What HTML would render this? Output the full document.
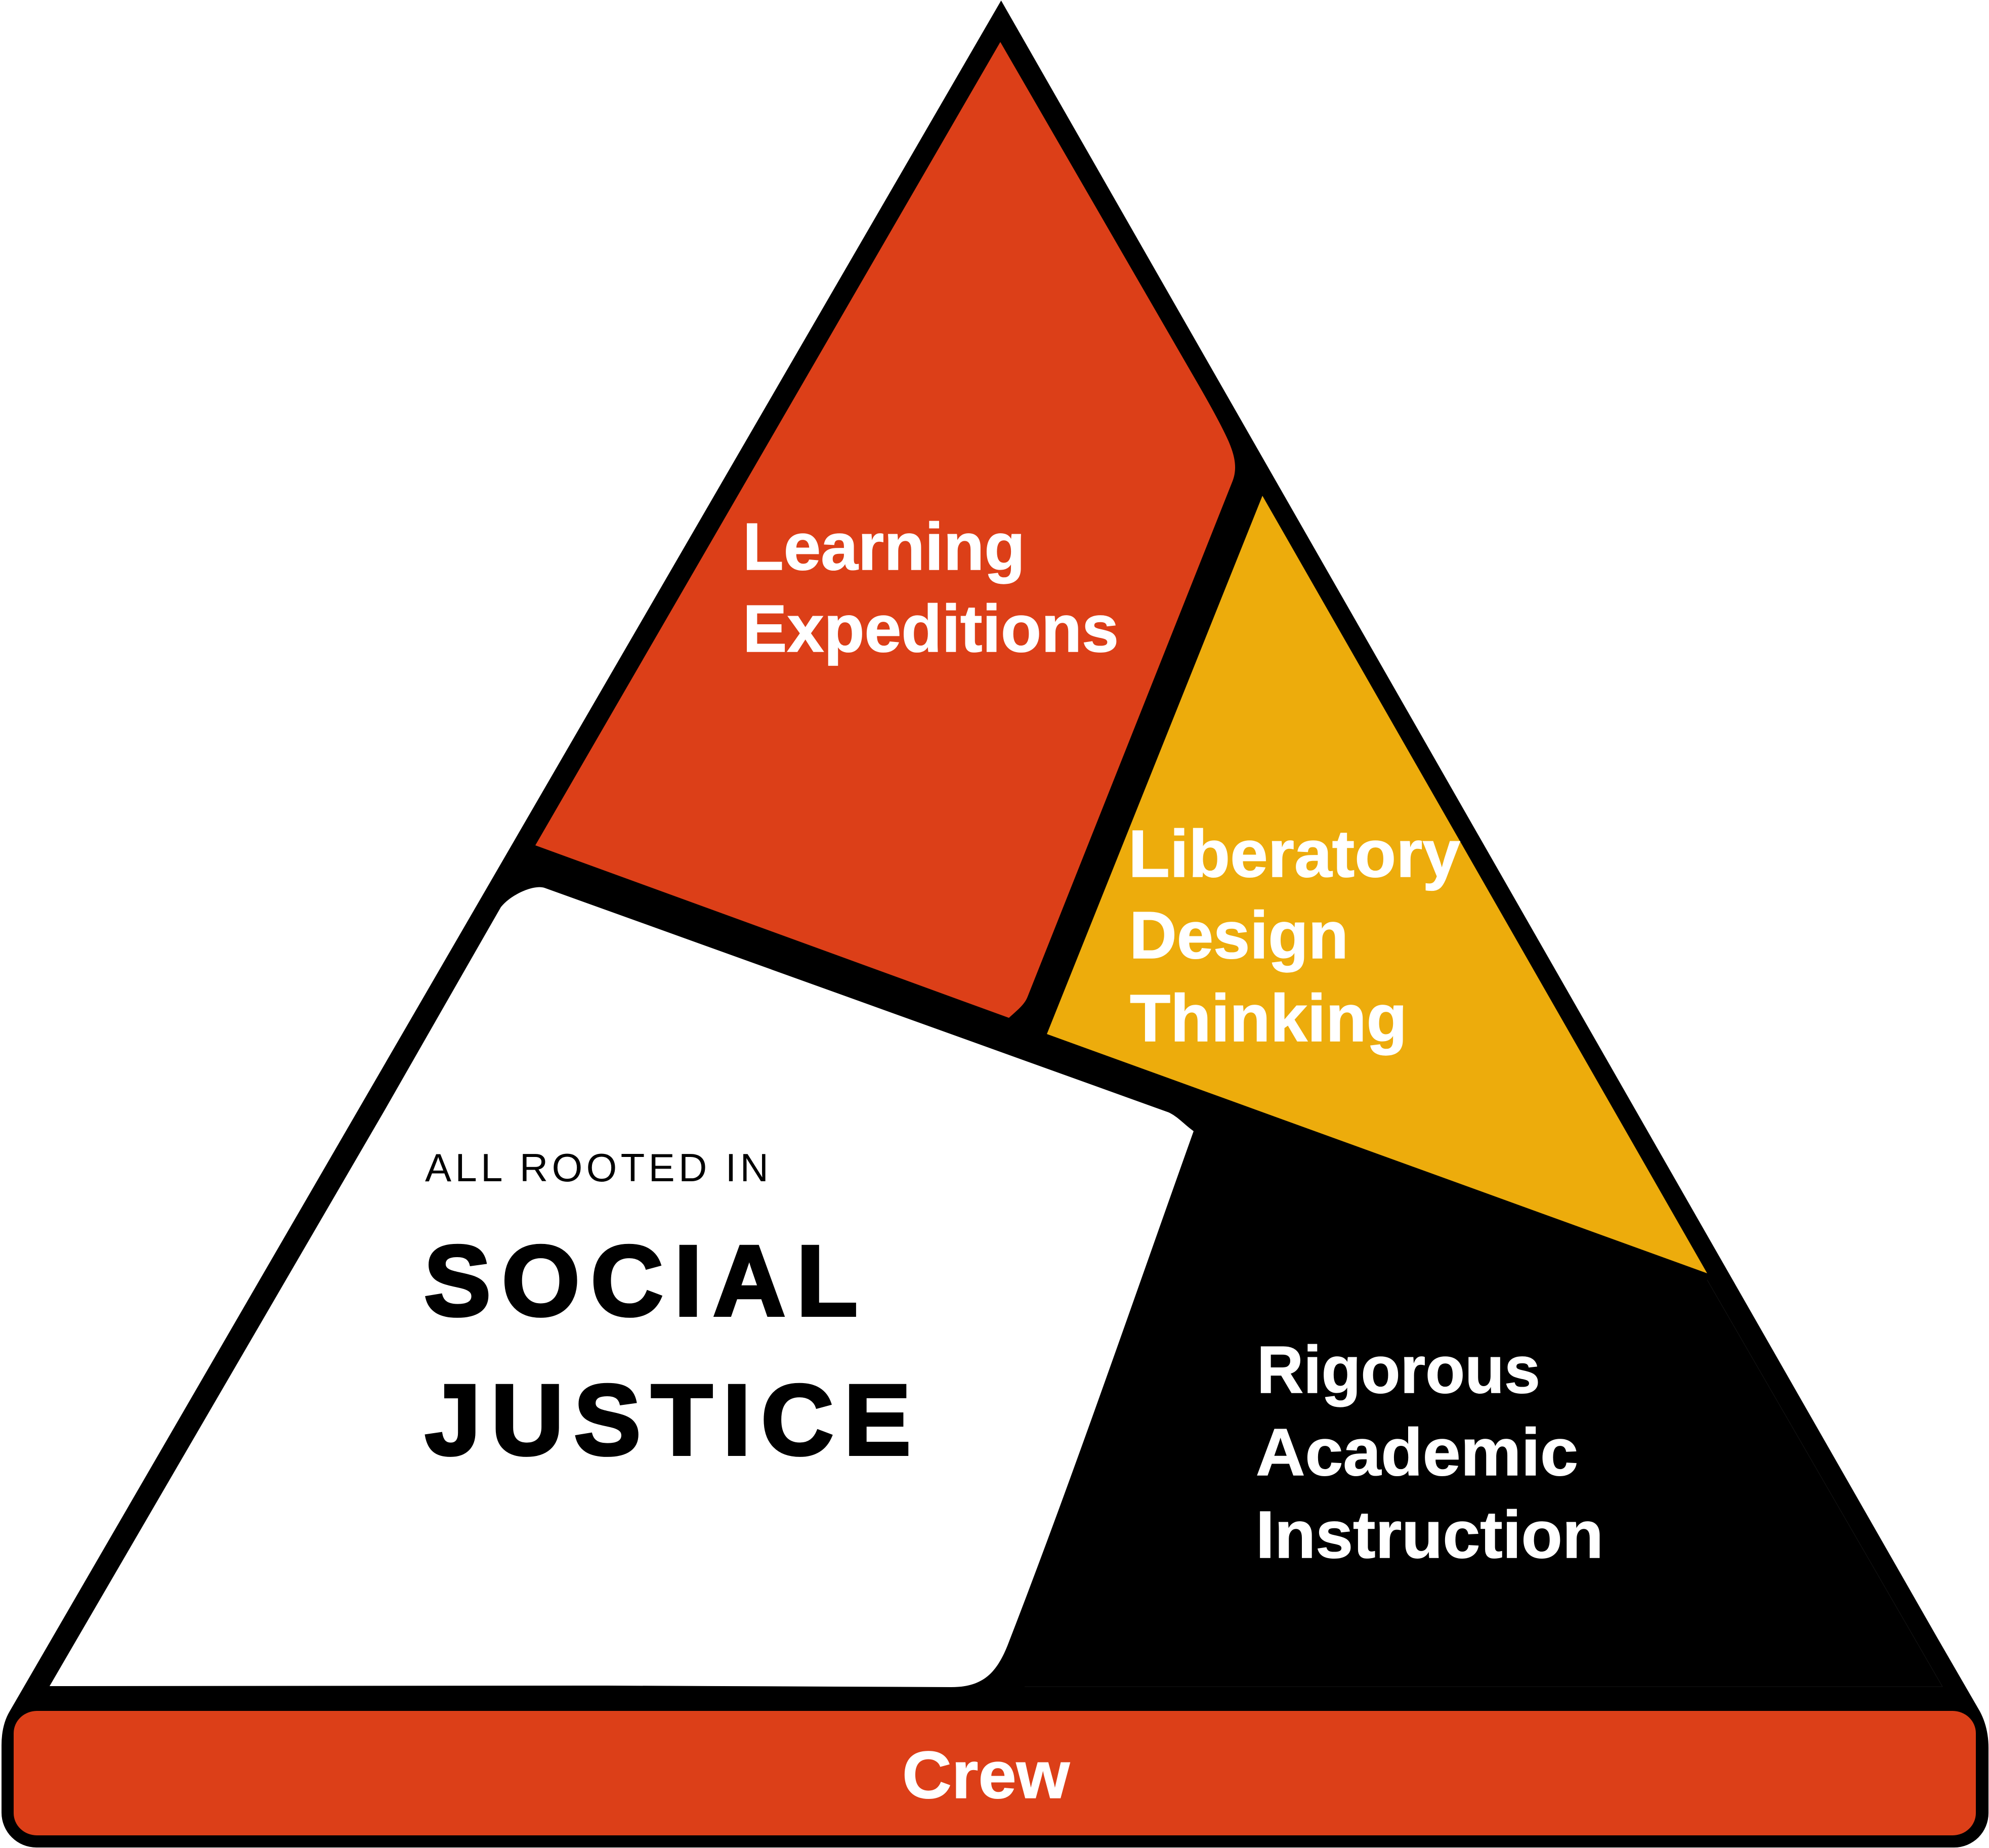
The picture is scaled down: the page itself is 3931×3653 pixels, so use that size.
<!DOCTYPE html>
<html><head><meta charset="utf-8"><style>
html,body{margin:0;padding:0;background:#fff}
svg{display:block}
text{font-family:"Liberation Sans",sans-serif}
.w{fill:#fff;stroke:#fff;stroke-width:1.5px;font-weight:700;font-size:132px}
</style></head><body>
<svg width="3931" height="3653" viewBox="0 0 3931 3653" xmlns="http://www.w3.org/2000/svg">
<rect width="3931" height="3653" fill="#fff"/>
<path d="M1978.6 1 L3828 3236 L3913 3383 Q3930 3415 3930 3455 V3584 A68 68 0 0 1 3862 3652 H72 A69 69 0 0 1 3 3583 V3450 Q3 3410 19 3383 Z" fill="#000"/>
<path d="M1977 83 L2370 763 Q2412 836 2428 872 C2440 900 2446 925 2436 951 L2031 1970 C2025 1985 2015 1993 1994 2012 L1058 1671 Z" fill="#DC3F18"/>
<path d="M2495 980 L3374 2517 L2069 2044 Z" fill="#EDAC0C"/>
<path d="M98 3333 L760 2195 Q900 1950 990 1793 C1010 1768 1055 1748 1076 1755 L2310 2199 C2327 2207 2340 2222 2359 2236 C2240 2570 2120 2920 1995 3243 C1972 3305 1945 3335 1880 3335 L1200 3332 Z" fill="#fff"/>
<path d="M2025 3334 H3839 L3374 2530" fill="none" stroke="#141414" stroke-width="1"/>
<rect x="27" y="3382" width="3878" height="246" rx="46" ry="44" fill="#DC3F18"/>

<text class="w" x="1468" y="1126" textLength="558" lengthAdjust="spacingAndGlyphs">Learning</text>
<text class="w" x="1468" y="1288" textLength="743" lengthAdjust="spacingAndGlyphs">Expeditions</text>
<text class="w" x="2230" y="1733" textLength="656" lengthAdjust="spacingAndGlyphs">Liberatory</text>
<text class="w" x="2232" y="1894" textLength="433" lengthAdjust="spacingAndGlyphs">Design</text>
<text class="w" x="2233" y="2058" textLength="548" lengthAdjust="spacingAndGlyphs">Thinking</text>
<text class="w" x="2484" y="2753" textLength="560" lengthAdjust="spacingAndGlyphs">Rigorous</text>
<text class="w" x="2482" y="2916" textLength="637" lengthAdjust="spacingAndGlyphs">Academic</text>
<text class="w" x="2482" y="3079" textLength="687" lengthAdjust="spacingAndGlyphs">Instruction</text>
<text class="w" x="1783" y="3554" textLength="331" lengthAdjust="spacingAndGlyphs">Crew</text>

<text x="840" y="2335" font-size="78" fill="#000" textLength="679" lengthAdjust="spacing">ALL ROOTED IN</text>
<text x="838" y="2600" font-size="198" font-weight="700" fill="#000" stroke="#000" stroke-width="6" textLength="857" lengthAdjust="spacing">SOCIAL</text>
<text x="840" y="2875" font-size="198" font-weight="700" fill="#000" stroke="#000" stroke-width="6" textLength="960" lengthAdjust="spacing">JUSTICE</text>
</svg>
</body></html>
